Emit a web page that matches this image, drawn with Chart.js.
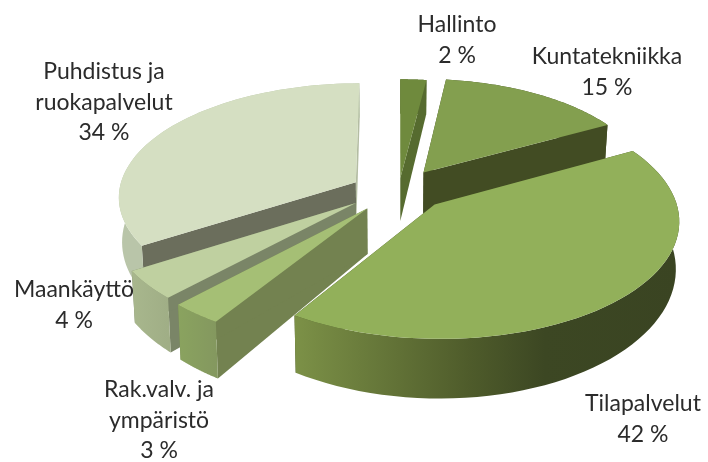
<!DOCTYPE html>
<html><head><meta charset="utf-8">
<style>html,body{margin:0;padding:0;background:#fff}canvas{display:block}</style>
<script src="https://cdn.jsdelivr.net/npm/chart.js@4"></script>
</head><body><canvas id="c" width="708" height="462"></canvas>
<script>
const categories = ["Hallinto","Kuntatekniikka","Tilapalvelut","Rak.valv. ja\nympäristö","Maankäyttö","Puhdistus ja\nruokapalvelut"];
const shares = [2,15,42,3,4,34];
const explode = [15,34,41,27,30,27];
const topColors = ["#6f8a3d","#839f4f","#92b05a","#a5bf75","#bfd0a0","#d5dfc2"];
const faceColors = ["#566b2f","#424c23","#424c23","#738250","#7a8567","#6b6e5c"];
const wallStops = [
  [[0,"#566b2f"],[1,"#566b2f"]],
  [[0,"#424c23"],[1,"#424c23"]],
  [[0,"#7c9147"],[.45,"#4f5c2b"],[.65,"#3c4723"],[1,"#3a4422"]],
  [[0,"#8aa35f"],[1,"#84985f"]],
  [[0,"#a8b78d"],[1,"#a0ae86"]],
  [[0,"#b9c5a9"],[1,"#b9c5a9"]]
];
const paintOrder = [0,1,5,4,3,2];
const labelSpots = [[457,25],[607,57],[643,404],[159,390],[74,290],[104,72]];
const sliceShift = [[6,0],[4,3],[1,-4],[-2,6],[-4,2],[-4,3]];
const sliceScale = [1,.96,1,1.03,1.02,1];

const view = {cx:393, cy:188, radius:237, squash:.476, persp:.12, depth:44};

function project(u,v,drop,shift){
  const s = 1/(1 - view.persp*v/view.radius);
  let x = view.cx + u*s, y = view.cy + v*view.squash*s;
  if(drop){ x = view.cx + (x-view.cx)*.988; y += view.depth*s*s; }
  return [x+shift[0],y+shift[1]];
}
const pie3d = {
  id:'pie3d',
  beforeDatasetsDraw(chart){
    const ctx = chart.ctx, arcs = chart.getDatasetMeta(0).data;
    const k = view.radius/arcs[0].outerRadius;
    for(const i of paintOrder){
      const a = arcs[i], o = a.options, mid=(a.startAngle+a.endAngle)/2, sh=sliceShift[i];
      const off = o.offset*k, ou = Math.cos(mid)*off, ov = Math.sin(mid)*off;
      const R = a.outerRadius*k*sliceScale[i], n = 60, rim=[];
      for(let j=0;j<=n;j++){
        const t = a.startAngle+(a.endAngle-a.startAngle)*j/n;
        rim.push([ou+Math.cos(t)*R, ov+Math.sin(t)*R]);
      }
      const poly = (pts,fill)=>{ctx.beginPath();pts.forEach((p,q)=>q?ctx.lineTo(p[0],p[1]):ctx.moveTo(p[0],p[1]));ctx.closePath();ctx.fillStyle=fill;ctx.fill();};
      const A=project(ou,ov,false,sh), Ad=project(ou,ov,true,sh);
      const first=rim[0], last=rim[n];
      poly([A,project(first[0],first[1],false,sh),project(first[0],first[1],true,sh),Ad],faceColors[i]);
      poly([A,project(last[0],last[1],false,sh),project(last[0],last[1],true,sh),Ad],i===5?"#b4bda3":faceColors[i]);
      const tops=rim.map(p=>project(p[0],p[1],false,sh)), bots=rim.map(p=>project(p[0],p[1],true,sh));
      const xs=tops.map(p=>p[0]), g=ctx.createLinearGradient(Math.min(...xs),0,Math.max(...xs),0);
      wallStops[i].forEach(s=>g.addColorStop(s[0],s[1]));
      poly([...tops,...bots.slice().reverse()],g);
      poly([A,...tops],o.backgroundColor);
    }
    return false;
  },
  afterDraw(chart){
    const ctx=chart.ctx;
    ctx.font='23px Lato'; ctx.fillStyle='#2b2b2b'; ctx.textAlign='center'; ctx.textBaseline='middle';
    categories.forEach((name,i)=>{
      const lines=[...name.split("\n"),shares[i]+" %"], [x,y]=labelSpots[i];
      lines.forEach((l,j)=>ctx.fillText(l,x,y+j*30.5));
    });
  }
};
new Chart(document.getElementById('c'),{
  type:'pie',
  data:{labels:categories,datasets:[{data:shares,backgroundColor:topColors,offset:explode,borderWidth:0}]},
  options:{responsive:false,animation:false,
    layout:{padding:{left:78,bottom:86}},
    plugins:{legend:{display:false},tooltip:{enabled:false}}},
  plugins:[pie3d]
});
</script></body></html>
